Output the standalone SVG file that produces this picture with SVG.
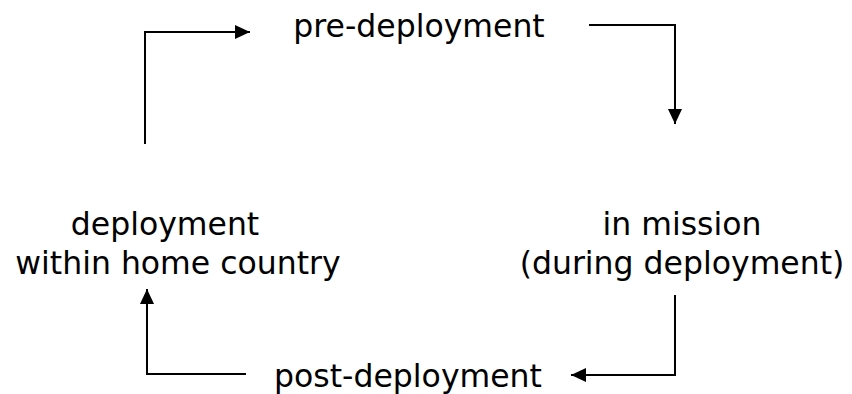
<svg xmlns="http://www.w3.org/2000/svg" width="852" height="394" viewBox="0 0 852 394">
  <style>
    .lbl { font-family: "DejaVu Sans", Verdana, sans-serif; font-size: 31.5px; fill: #000; text-anchor: middle; }
    .conn { fill: none; stroke: #000; stroke-width: 2; stroke-linejoin: miter; }
  </style>
  <defs>
    <marker id="arrow" markerUnits="userSpaceOnUse" markerWidth="16" markerHeight="16" refX="15" refY="7" orient="auto">
      <path d="M0,0 L15,7 L0,14 Z" fill="#000"/>
    </marker>
  </defs>
  <rect width="852" height="394" fill="#fff"/>
  <g id="connectors">
    <path class="conn" d="M145,144 L145,32 L250,32" marker-end="url(#arrow)"/>
    <path class="conn" d="M589,25 L675,25 L675,124" marker-end="url(#arrow)"/>
    <path class="conn" d="M675,295 L675,375 L571,375" marker-end="url(#arrow)"/>
    <path class="conn" d="M246,374 L147,374 L147,289" marker-end="url(#arrow)"/>
  </g>
  <g id="pre-deployment">
    <text class="lbl" x="419" y="37">pre-deployment</text>
  </g>
  <g id="in-mission">
    <text class="lbl" x="682" y="235">in mission</text>
    <text class="lbl" x="682" y="274">(during deployment)</text>
  </g>
  <g id="post-deployment">
    <text class="lbl" x="408" y="387">post-deployment</text>
  </g>
  <g id="home-country">
    <text class="lbl" x="165" y="235">deployment</text>
    <text class="lbl" x="178" y="274">within home country</text>
  </g>
</svg>
